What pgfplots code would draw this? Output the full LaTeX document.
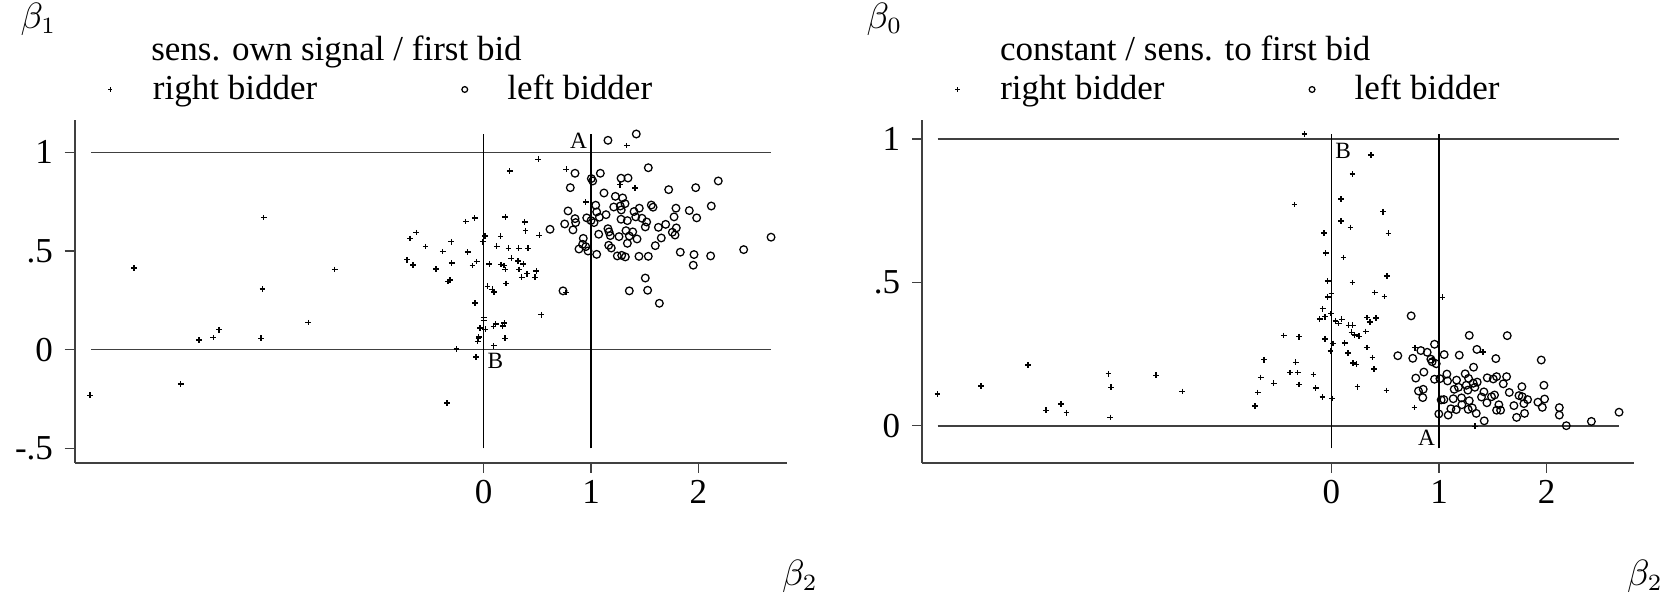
\documentclass[border=0pt]{standalone}
\usepackage{fontspec}
\setmainfont{Liberation Serif}
\usepackage{pgfplots}
\pgfplotsset{compat=1.18}

\pgfplotsset{
  panel/.style={
    scale only axis, width=213.6pt, height=102.81pt,
    axis x line*=bottom, axis y line*=left,
    axis line style={-, draw=black!75, line width=0.55pt},
    tick align=outside, major tick length=3pt,
    tick style={black!75, line width=0.45pt},
    xtick={0,1,2}, xticklabels={0,1,2},
    ticklabel style={font=\fontsize{10.5}{12}\selectfont},
    xticklabel style={yshift=1.2pt},
    clip=false,
    xmin=-3.812, xmax=2.824,
    legend columns=2,
    legend cell align=left,
    legend style={draw=none, fill=none, inner sep=0pt, nodes={inner sep=0pt},
      font=\fontsize{10.5}{12}\selectfont,
      /tikz/every even column/.append style={column sep=43.4pt}},
    legend image code/.code={%
      \path (0pt,-3pt) (12.6pt,3pt);
      \draw[##1, every mark/.append style={scale=0.75}] plot coordinates {(0pt,0pt)};
    },
  },
  rb/.style={only marks, mark=+, mark size=0.85pt, line width=0.42pt, black},
  lb/.style={only marks, mark=o, mark size=1.15pt, line width=0.38pt, black},
  hl/.style={black!75, line width=0.5pt, forget plot},
  vl/.style={black, line width=0.32pt, forget plot},
}

\begin{document}
\begin{tikzpicture}
\useasboundingbox (0,0) rectangle (503.7pt,179.1pt);

% ---------------- left panel ----------------
\begin{axis}[panel, at={(22.41pt,40.29pt)}, anchor=south west,
  ymin=-0.573, ymax=1.164,
  ytick={-0.5,0,0.5,1}, yticklabels={-.5,0,.5,1},
  legend style={at={(axis description cs:0.046,1.089)}, anchor=west}]
\addplot[hl] coordinates {(-3.66,1) (2.68,1)};
\addplot[hl] coordinates {(-3.66,0) (2.68,0)};
\addplot[vl] coordinates {(0,-0.5) (0,1.093)};
\addplot[vl] coordinates {(1,-0.5) (1,1.093)};
\addplot[rb] table {
x y
-3.668 -0.231
-3.259 0.414
-2.824 -0.175
-2.653 0.049
-2.520 0.061
-2.467 0.101
-2.075 0.058
-2.063 0.308
-2.050 0.669
-1.635 0.137
-1.389 0.407
-0.715 0.456
-0.687 0.563
-0.659 0.429
-0.628 0.593
-0.541 0.522
-0.445 0.409
-0.382 0.497
-0.342 -0.270
-0.333 0.345
-0.314 0.352
-0.302 0.547
-0.298 0.439
-0.255 0.004
-0.168 0.649
-0.149 0.494
-0.106 0.426
-0.084 0.668
-0.081 0.237
-0.072 -0.037
-0.065 0.446
-0.009 0.547
0.012 0.576
0.158 0.575
0.121 0.524
0.230 0.514
0.326 0.514
0.413 0.514
0.391 0.603
0.518 0.580
0.052 0.434
0.161 0.431
0.189 0.426
0.201 0.406
0.257 0.463
0.320 0.450
0.369 0.434
0.329 0.406
0.404 0.385
0.490 0.399
0.354 0.367
0.478 0.367
0.208 0.335
0.034 0.321
0.080 0.306
0.096 0.292
0.537 0.177
0.767 0.289
0.000 0.162
0.000 0.147
-0.034 0.110
0.015 0.103
0.112 0.130
0.090 0.117
0.192 0.135
0.177 0.120
-0.047 0.064
-0.056 0.041
-0.050 0.055
0.199 0.058
0.093 0.020
0.509 0.965
0.242 0.906
0.770 0.914
1.333 1.034
1.410 0.820
1.270 0.836
0.951 0.749
0.201 0.673
0.382 0.646
};
\addlegendentry{right bidder}
\addplot[lb] table {
x y
1.158 1.061
1.422 1.093
0.851 0.894
1.003 0.867
1.016 0.855
1.087 0.894
1.534 0.922
1.280 0.869
1.345 0.870
0.807 0.821
1.121 0.794
1.227 0.777
1.295 0.769
1.724 0.811
1.976 0.821
2.186 0.855
0.786 0.703
1.044 0.732
1.212 0.723
1.273 0.728
1.317 0.740
1.282 0.708
1.053 0.698
1.401 0.700
1.450 0.717
1.562 0.733
1.578 0.722
1.792 0.717
1.916 0.705
2.121 0.728
0.851 0.664
0.960 0.668
1.078 0.671
1.140 0.684
1.280 0.661
1.339 0.654
1.417 0.673
1.475 0.666
1.519 0.647
1.774 0.673
1.985 0.668
0.755 0.637
0.832 0.607
0.857 0.644
1.000 0.654
1.028 0.644
1.158 0.613
1.168 0.597
1.326 0.603
1.389 0.597
1.506 0.622
1.628 0.620
1.696 0.635
1.795 0.617
1.758 0.595
1.783 0.581
0.618 0.610
1.072 0.585
1.180 0.578
1.261 0.573
1.357 0.576
1.429 0.561
1.655 0.566
0.928 0.564
1.339 0.539
1.165 0.529
1.599 0.527
0.922 0.534
0.951 0.522
0.888 0.510
0.972 0.500
1.189 0.515
1.053 0.483
1.245 0.475
1.286 0.478
1.320 0.470
1.447 0.473
1.534 0.473
1.832 0.494
1.960 0.482
1.953 0.428
2.115 0.475
2.423 0.507
2.678 0.570
1.506 0.363
0.739 0.298
1.357 0.298
1.528 0.301
1.637 0.235
};
\addlegendentry{left bidder}
\node[anchor=south east, inner sep=1pt, font=\fontsize{7}{8}\selectfont] at (axis cs:1,1) {A};
\node[anchor=north west, inner sep=1pt, font=\fontsize{7}{8}\selectfont] at (axis cs:0,0) {B};
\end{axis}

% ---------------- right panel ----------------
\begin{axis}[panel, at={(276.6pt,40.29pt)}, anchor=south west,
  xmin=-3.805, xmax=2.812,
  ymin=-0.129, ymax=1.066,
  ytick={0,0.5,1}, yticklabels={0,.5,1},
  legend style={at={(axis description cs:0.046,1.089)}, anchor=west}]
\addplot[hl] coordinates {(-3.66,1) (2.67,1)};
\addplot[hl] coordinates {(-3.66,0) (2.67,0)};
\addplot[vl] coordinates {(0,-0.079) (0,1.017)};
\addplot[vl] coordinates {(1,-0.079) (1,1.017)};
\addplot[rb] table {
x y
-3.662 0.111
-3.256 0.138
-2.819 0.212
-2.651 0.054
-2.514 0.075
-2.462 0.045
-2.072 0.181
-2.047 0.134
-2.056 0.029
-1.631 0.176
-1.386 0.119
-0.710 0.069
-0.685 0.116
-0.657 0.168
-0.626 0.230
-0.536 0.148
-0.443 0.315
-0.384 0.185
-0.344 0.771
-0.332 0.221
-0.313 0.185
-0.301 0.310
-0.301 0.144
-0.251 1.017
-0.167 0.179
-0.146 0.131
0.369 0.944
0.195 0.878
0.090 0.791
0.481 0.746
0.090 0.714
0.177 0.691
0.530 0.671
-0.068 0.672
-0.053 0.602
0.112 0.587
-0.034 0.505
0.195 0.499
0.518 0.522
0.403 0.464
0.493 0.450
0.000 0.460
-0.034 0.449
-0.081 0.408
-0.059 0.380
-0.109 0.372
-0.003 0.391
0.037 0.365
0.068 0.356
0.096 0.371
0.161 0.350
0.198 0.350
0.332 0.377
0.416 0.376
0.357 0.361
0.186 0.326
0.217 0.316
0.257 0.312
0.319 0.329
-0.059 0.303
0.016 0.287
0.124 0.288
-0.009 0.261
0.329 0.273
0.155 0.254
0.381 0.238
0.202 0.218
0.233 0.214
0.397 0.198
-0.084 0.100
0.006 0.095
0.242 0.136
0.512 0.123
1.033 0.448
0.775 0.272
1.408 0.257
0.772 0.064
1.333 -0.002
0.943 0.230
};
\addlegendentry{right bidder}
\addplot[lb] table {
x y
0.741 0.383
1.281 0.315
1.634 0.314
0.958 0.284
0.617 0.244
0.756 0.235
0.831 0.262
0.890 0.256
0.924 0.232
0.936 0.223
0.974 0.216
1.048 0.248
1.188 0.246
1.352 0.266
1.528 0.234
1.950 0.229
1.321 0.204
0.859 0.187
0.784 0.166
0.958 0.162
1.008 0.164
1.073 0.180
1.079 0.156
1.163 0.159
1.243 0.181
1.274 0.165
1.318 0.148
1.355 0.152
1.448 0.167
1.504 0.163
1.535 0.171
1.628 0.171
1.597 0.146
1.770 0.136
1.975 0.141
0.809 0.121
0.853 0.127
0.849 0.098
1.141 0.127
1.181 0.134
1.253 0.141
1.268 0.124
1.333 0.134
1.417 0.118
1.488 0.101
1.516 0.107
1.653 0.116
1.743 0.105
1.774 0.101
1.823 0.091
1.981 0.093
1.020 0.090
1.045 0.091
1.132 0.094
1.209 0.097
1.281 0.087
1.395 0.100
1.445 0.080
1.556 0.073
1.110 0.059
1.160 0.056
1.271 0.057
1.309 0.062
1.212 0.073
1.535 0.054
1.572 0.054
1.696 0.070
1.789 0.077
1.919 0.082
1.960 0.064
2.118 0.063
2.118 0.037
0.998 0.041
1.085 0.037
1.346 0.043
1.420 0.017
1.721 0.029
1.795 0.043
2.183 0.000
2.416 0.015
2.673 0.047
};
\addlegendentry{left bidder}
\node[anchor=north west, inner sep=1pt, font=\fontsize{7}{8}\selectfont] at (axis cs:0,1) {B};
\node[anchor=north east, inner sep=1pt, font=\fontsize{7}{8}\selectfont] at (axis cs:1,0) {A};
\end{axis}

% ---------------- titles and axis symbols ----------------
\node[anchor=base west, inner sep=0pt, font=\fontsize{10.5}{12}\selectfont] at (45.2pt,160.8pt) {sens. own signal / first bid};
\node[anchor=base west, inner sep=0pt, font=\fontsize{10.5}{12}\selectfont] at (299.8pt,160.8pt) {constant / sens. to first bid};
\node[inner sep=0pt, font=\fontsize{10.5}{12}\selectfont] at (11.55pt,173.4pt) {$\beta_1$};
\node[inner sep=0pt, font=\fontsize{10.5}{12}\selectfont] at (265.35pt,173.4pt) {$\beta_0$};
\node[inner sep=0pt, font=\fontsize{10.5}{12}\selectfont] at (240pt,6.2pt) {$\beta_2$};
\node[inner sep=0pt, font=\fontsize{10.5}{12}\selectfont] at (493.5pt,6.2pt) {$\beta_2$};
\end{tikzpicture}
\end{document}
